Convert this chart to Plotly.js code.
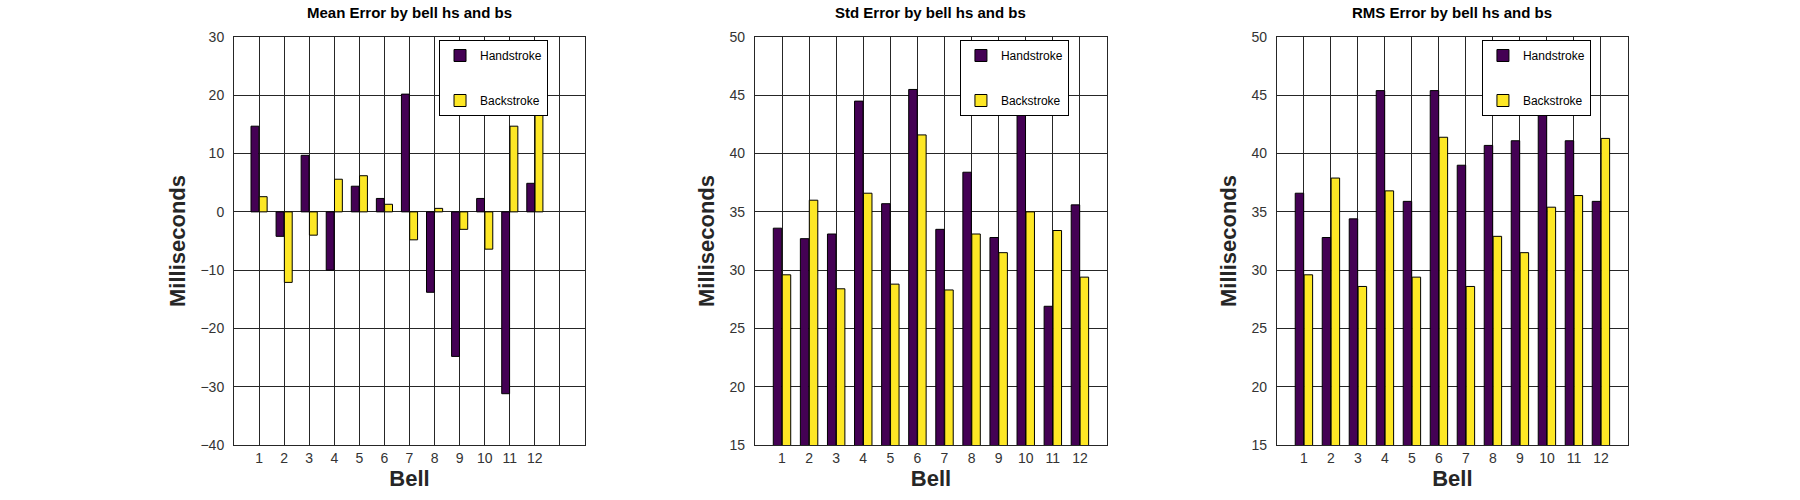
<!DOCTYPE html>
<html>
<head>
<script src="https://cdn.plot.ly/plotly-3.0.1.min.js"></script>
<style>body{margin:0}</style>
</head>
<body>
<div id="plot" style="width:1800px;height:500px"></div>
<script>
const bells = [1, 2, 3, 4, 5, 6, 7, 8, 9, 10, 11, 12];

const meanHand = [14.7, -4.2, 9.7, -10, 4.4, 2.3, 20.2, -13.8, -24.8, 2.3, -31.2, 4.9];
const meanBack = [2.6, -12.1, -4, 5.6, 6.2, 1.3, -4.8, 0.6, -3, -6.4, 14.7, 29];

const stdHand = [33.6, 32.7, 33.1, 44.5, 35.7, 45.5, 33.5, 38.4, 32.8, 44.8, 26.9, 35.6];
const stdBack = [29.6, 36, 28.4, 36.6, 28.8, 41.6, 28.3, 33.1, 31.5, 35, 33.4, 29.4];

const rmsHand = [36.6, 32.8, 34.4, 45.4, 35.9, 45.4, 39, 40.7, 41.1, 44.7, 41.1, 35.9];
const rmsBack = [29.6, 37.9, 28.6, 36.8, 29.4, 41.4, 28.6, 32.9, 31.5, 35.4, 36.4, 41.3];

const titles = ['Mean Error by bell hs and bs', 'Std Error by bell hs and bs', 'RMS Error by bell hs and bs'];

const purple = '#440154';
const yellow = '#fde725';
const font = 'Liberation Sans, Arial, sans-serif';

function bar(y, name, color, n) {
  return {
    type: 'bar', x: bells, y: y, name: name,
    marker: {color: color, line: {color: '#000', width: 1}},
    xaxis: n == 1 ? 'x' : 'x' + n, yaxis: n == 1 ? 'y' : 'y' + n,
    legend: n == 1 ? 'legend' : 'legend' + n,
    legendgroup: name + n
  };
}

var data = [
  bar(meanHand, 'Handstroke', purple, 1), bar(meanBack, 'Backstroke', yellow, 1),
  bar(stdHand, 'Handstroke', purple, 2), bar(stdBack, 'Backstroke', yellow, 2),
  bar(rmsHand, 'Handstroke', purple, 3), bar(rmsBack, 'Backstroke', yellow, 3)
];

const domains = [[0.13, 0.325], [0.4194, 0.615], [0.7094, 0.9044]];
const xmax = [14, 13, 13];
const yranges = [[-40, 30], [15, 50], [15, 50]];
const ydticks = [10, 5, 5];

var layout = {
  width: 1800, height: 500,
  margin: {l: 0, r: 0, t: 0, b: 0},
  paper_bgcolor: '#fff', plot_bgcolor: '#fff',
  font: {family: font, color: '#262626'},
  barmode: 'group', bargap: 0.34, bargroupgap: 0.05,
  annotations: []
};

for (let i = 0; i < 3; i++) {
  const s = i == 0 ? '' : String(i + 1);
  const xv = [];
  const xt = [];
  for (let k = 0; k <= xmax[i]; k++) { xv.push(k); xt.push(k >= 1 && k <= 12 ? String(k) : ''); }
  layout['xaxis' + s] = {
    domain: domains[i], range: [0, xmax[i]], anchor: 'y' + s,
    tickvals: xv, ticktext: xt, ticks: '', showgrid: true, gridcolor: '#262626', gridwidth: 1,
    showline: true, linecolor: '#262626', mirror: true, zeroline: false,
    tickfont: {size: 14, color: '#333'},
    title: {text: 'Bell', font: {size: 22, color: '#262626', family: font, weight: 'bold'}, standoff: 2}
  };
  layout['yaxis' + s] = {
    domain: [0.11, 0.926], range: yranges[i], anchor: 'x' + s, dtick: ydticks[i],
    ticks: '', showgrid: true, gridcolor: '#262626', gridwidth: 1,
    showline: true, linecolor: '#262626', mirror: true, zeroline: false,
    tickfont: {size: 14, color: '#333'}, ticklabelstandoff: 6,
    title: {text: 'Milliseconds', font: {size: 22, color: '#262626', family: font, weight: 'bold'}, standoff: 8}
  };
  layout['legend' + s] = {
    x: [0.2439, 0.5333, 0.8233][i], y: 0.92, xanchor: 'left', yanchor: 'top',
    bgcolor: '#fff', bordercolor: '#000', borderwidth: 1,
    font: {size: 12, color: '#000'}, traceorder: 'grouped', tracegroupgap: 26,
    entrywidth: 110
  };
  layout.annotations.push({
    text: '<b>' + titles[i] + '</b>', xref: 'paper', yref: 'paper',
    x: (domains[i][0] + domains[i][1]) / 2, y: 1 - 12 / 500, xanchor: 'center', yanchor: 'middle',
    showarrow: false, font: {size: 15, color: '#000'}
  });
}

Plotly.newPlot('plot', data, layout, {displayModeBar: false});
</script>
</body>
</html>
